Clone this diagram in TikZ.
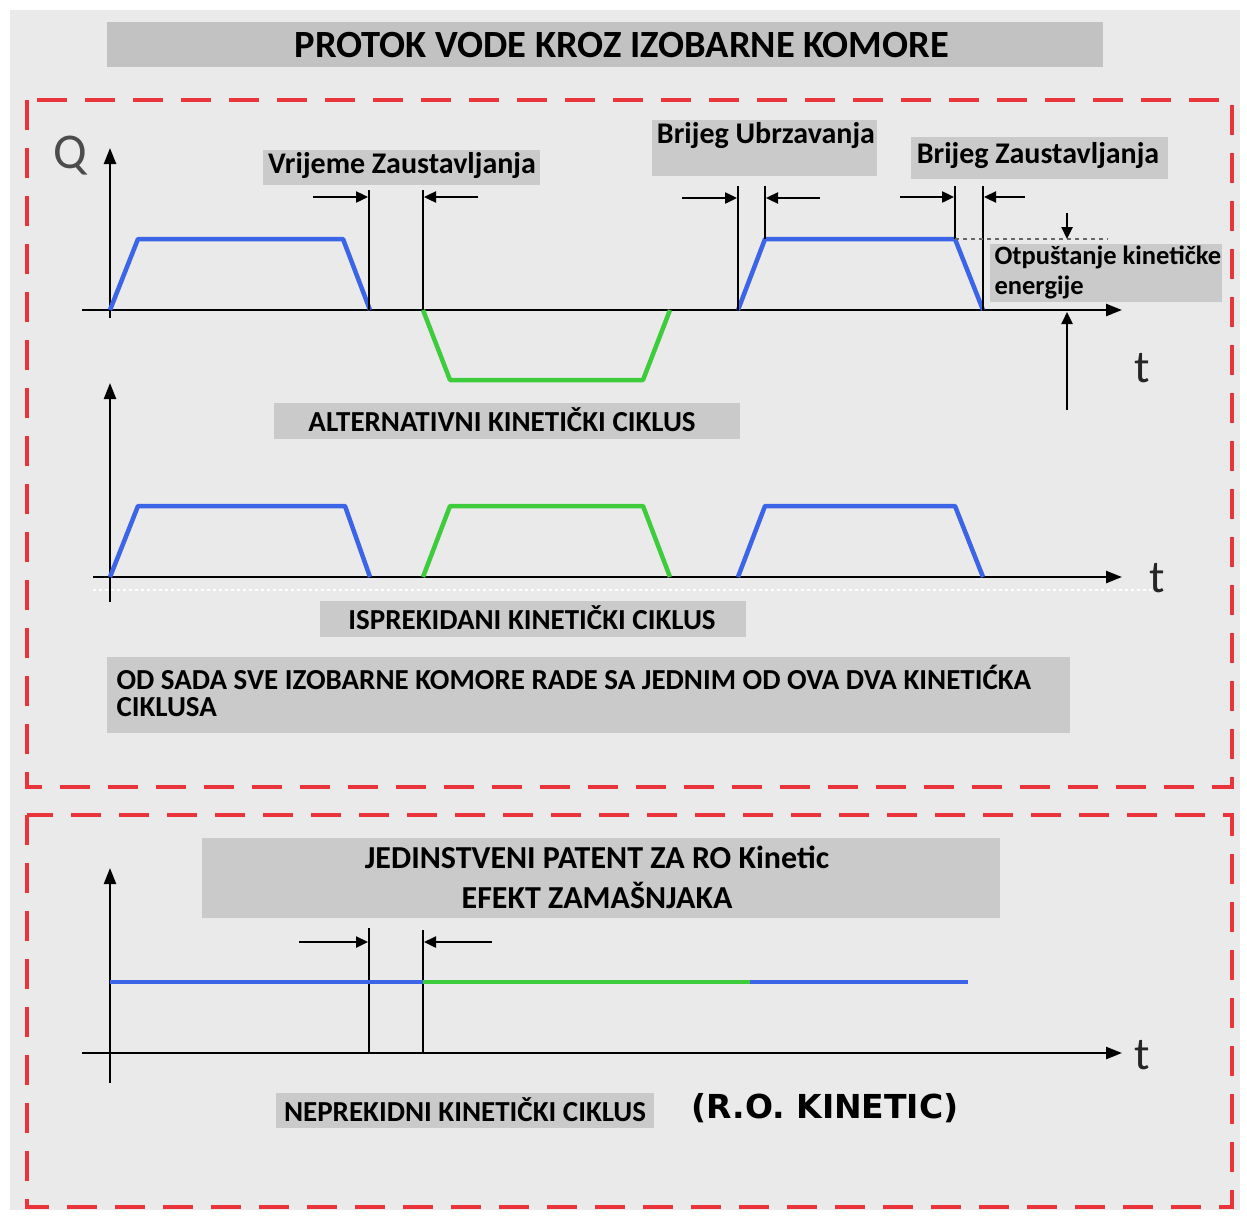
\documentclass[tikz,border=0pt]{standalone}
\usepackage{fontspec}
\setmainfont{Carlito}
\newfontfamily\heavyfont{DejaVu Sans}
\usetikzlibrary{arrows.meta}
\definecolor{pagegray}{HTML}{EAEAEA}
\definecolor{titlegray}{HTML}{C2C2C2}
\definecolor{boxgray}{HTML}{CACACA}
\definecolor{flowblue}{HTML}{3C64E6}
\definecolor{flowgreen}{HTML}{3CCC3C}
\definecolor{framered}{HTML}{E8343A}
\tikzset{
  frame/.style={framered, line width=4pt, dash pattern=on 30pt off 18pt},
  axis/.style={line width=2.4pt, -{Triangle[length=16pt,width=12pt]}},
  mark line/.style={line width=2pt},
  gap arrow/.style={line width=2.4pt, -{Triangle[length=12pt,width=11pt]}},
  blueflow/.style={flowblue, line width=4.5pt, line join=round},
  greenflow/.style={flowgreen, line width=4.5pt, line join=round},
  lbl/.style={font=\bfseries\fontsize{30}{32}\selectfont},
  caps/.style={font=\bfseries\fontsize{29}{27}\selectfont},
  big/.style={font=\fontsize{46}{50}\selectfont, text=black!85}
}
\begin{document}
\begin{tikzpicture}[x=1pt, y=-1pt]
	\useasboundingbox (0,0) rectangle (1247,1215);
	\fill[white] (0,0) rectangle (1247,1215);
	\fill[pagegray] (10,10) rectangle (1240,1210);
	% title
	\fill[titlegray] (107,22) rectangle (1103,67);
	\node[font=\bfseries\fontsize{38.5}{40}\selectfont] (title) at (622,45) {PROTOK VODE KROZ IZOBARNE KOMORE};
	% frames
	\draw[frame] (27,100) rectangle (1232,787);
	\draw[frame] (27,815) rectangle (1232,1207);

	% ---- first chart: alternating cycle
	\draw[axis] (110,318) -- (110,148);
	\draw[axis] (82,310) -- (1122,310);
	\node[big, text=black!70, font=\fontsize{50}{52}\selectfont] (q) at (70,156) {Q};
	\node[big] (t1) at (1142,368) {t};
	\draw[blueflow] (110,310) -- (138,239) -- (343,239) -- (370,310);
	\draw[greenflow] (423,310) -- (450,380) -- (643,380) -- (670,310);
	\draw[blueflow] (738,310) -- (765,239) -- (955,239) -- (983,310);
	\draw[mark line] (369,190) -- (369,310);
	\draw[mark line] (423,190) -- (423,310);
	\draw[gap arrow] (313,197) -- (368,197);
	\draw[gap arrow] (478,197) -- (424,197);
	\draw[mark line] (738,186) -- (738,310);
	\draw[mark line] (765,186) -- (765,239);
	\draw[gap arrow] (682,198) -- (737,198);
	\draw[gap arrow] (820,198) -- (766,198);
	\draw[mark line] (955,186) -- (955,239);
	\draw[mark line] (983,186) -- (983,310);
	\draw[gap arrow] (900,197) -- (954,197);
	\draw[gap arrow] (1025,197) -- (984,197);
	\draw[line width=2pt, black!60, dash pattern=on 4pt off 4pt] (955,239) -- (1108,239);
	\draw[gap arrow] (1067,213) -- (1067,239);
	\draw[gap arrow] (1067,410) -- (1067,312);
	\fill[boxgray] (263,150) rectangle (540,185);
	\node[lbl] (stoptime) at (402,166) {Vrijeme Zaustavljanja};
	\fill[boxgray] (652,120) rectangle (877,176);
	\node[lbl] (accel) at (766,136) {Brijeg Ubrzavanja};
	\fill[boxgray] (911,137) rectangle (1168,179);
	\node[lbl] (brake) at (1038,156) {Brijeg Zaustavljanja};
	\fill[boxgray] (990,244) rectangle (1222,302);
	\node[lbl, font=\bfseries\fontsize{26.5}{30}\selectfont, align=left, anchor=north west] (release) at (991,242) {Otpuštanje kinetičke\\energije};
	\fill[boxgray] (274,403) rectangle (740,439);
	\node[caps] (alt) at (502,420) {ALTERNATIVNI KINETIČKI CIKLUS};

	% ---- second chart: interrupted cycle
	\draw[axis] (110,602) -- (110,383);
	\draw[axis] (93,577) -- (1122,577);
	\draw[white, line width=1.5pt, dash pattern=on 3pt off 3pt] (93,590) -- (1160,590);
	\node[big] (t2) at (1157,578) {t};
	\draw[blueflow] (110,577) -- (138,506) -- (345,506) -- (370,577);
	\draw[greenflow] (423,577) -- (450,506) -- (643,506) -- (670,577);
	\draw[blueflow] (738,577) -- (765,506) -- (955,506) -- (983,577);
	\fill[boxgray] (320,601) rectangle (746,637);
	\node[caps] (isp) at (532,618) {ISPREKIDANI KINETIČKI CIKLUS};
	\fill[boxgray] (107,657) rectangle (1070,733);
	\node[caps, align=left, anchor=north west] (note) at (113,662) {OD SADA SVE IZOBARNE KOMORE RADE SA JEDNIM OD OVA DVA KINETIĆKA\\CIKLUSA};

	% ---- third chart: continuous cycle
	\fill[boxgray] (202,838) rectangle (1000,918);
	\node[caps, font=\bfseries\fontsize{32}{40}\selectfont, align=center] (patent) at (597,877) {JEDINSTVENI PATENT ZA RO Kinetic\\EFEKT ZAMAŠNJAKA};
	\draw[axis] (110,1083) -- (110,868);
	\draw[axis] (82,1053) -- (1122,1053);
	\node[big] (t3) at (1142,1055) {t};
	\draw[mark line] (369,928) -- (369,1053);
	\draw[mark line] (423,930) -- (423,1053);
	\draw[gap arrow] (299,942) -- (368,942);
	\draw[gap arrow] (492,942) -- (424,942);
	\draw[blueflow] (110,982) -- (423,982);
	\draw[greenflow] (423,982) -- (750,982);
	\draw[blueflow] (750,982) -- (968,982);
	\fill[boxgray] (276,1093) rectangle (654,1128);
	\node[caps] (nep) at (465,1110) {NEPREKIDNI KINETIČKI CIKLUS};
	\node[font=\heavyfont\bfseries\fontsize{33}{36}\selectfont] (ro) at (825,1108) {(R.O. KINETIC)};
\end{tikzpicture}
\end{document}
